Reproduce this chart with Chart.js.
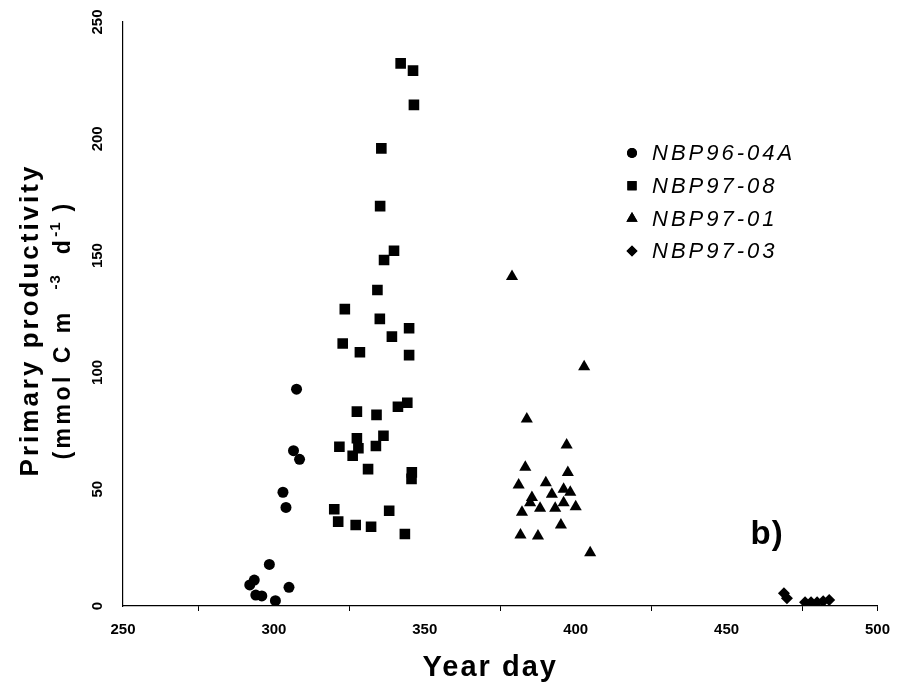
<!DOCTYPE html>
<html>
<head>
<meta charset="utf-8">
<script src="https://cdn.jsdelivr.net/npm/chart.js@4.4.1/dist/chart.umd.min.js"></script>
<style>
  html, body { margin: 0; padding: 0; background: #fff; }
  #wrap { width: 900px; height: 692px; }
</style>
</head>
<body>
<div id="wrap"><canvas id="grafico"></canvas></div>
<script>
// Cruzeiros (legenda)
const cruises = ['NBP96-04A', 'NBP97-08', 'NBP97-01', 'NBP97-03'];

// NBP96-04A (círculos)
const nbp9604aDay = [292, 293.5, 294, 296, 298.5, 300.5, 303, 304, 305, 306.5, 307.5, 308.5];
const nbp9604aPP  = [9.0, 11.1, 4.7, 4.3, 17.8, 2.3, 48.7, 42.2, 8.0, 66.5, 92.8, 62.8];

// NBP97-08 (quadrados)
const nbp9708Day = [342.0, 346.1, 346.4, 335.6, 335.2, 339.8, 336.5, 334.3, 323.5, 335.1,
                    344.8, 339.1, 322.8, 328.5, 344.8, 344.2, 341.1, 327.5, 334.0, 336.3,
                    327.5, 328.0, 321.7, 333.8, 326.1, 331.2, 345.7, 345.6, 320.0, 321.3,
                    327.1, 332.2, 338.2, 343.4];
const nbp9708PP  = [232.3, 229.2, 214.5, 195.9, 171.2, 152.1, 148.1, 135.3, 127.1, 122.9,
                    118.9, 115.3, 112.4, 108.6, 107.4, 87.0, 85.3, 83.2, 81.8, 72.9,
                    71.8, 67.5, 68.2, 68.5, 64.3, 58.6, 57.2, 54.4, 41.4, 36.1,
                    34.7, 33.9, 40.8, 30.8];

// NBP97-01 (triângulos)
const nbp9701Day = [378.9, 402.8, 383.8, 397.0, 383.3, 397.4, 381.1, 390.1, 385.5, 392.1,
                    396.0, 398.2, 384.9, 388.2, 393.2, 396.0, 400.0, 382.2, 395.1, 381.7,
                    387.5, 404.8];
const nbp9701PP  = [141.0, 102.4, 80.0, 68.9, 59.4, 57.1, 51.8, 52.8, 46.5, 47.8,
                    50.0, 48.7, 44.2, 41.8, 41.8, 44.2, 42.5, 40.1, 34.7, 30.4,
                    30.0, 22.8];

// NBP97-03 (losangos)
const nbp9703Day = [469, 470, 476, 478, 480, 482, 484];
const nbp9703PP  = [5.5, 3.3, 1.6, 1.6, 1.6, 2.0, 2.6];

// Eixos
const xTicks = [250, 300, 350, 400, 450, 500];
const yTicks = [0, 50, 100, 150, 200, 250];

function pontos(dias, valores) {
    return dias.map((d, i) => ({ x: d, y: valores[i] }));
}

const estilos = ['circle', 'rect', 'triangle', 'rectRot'];
const raios = [5.5, 7.5, 7, 6];
const raiosLegenda = [5, 6.5, 6.5, 5.5];
const series = [
    pontos(nbp9604aDay, nbp9604aPP),
    pontos(nbp9708Day, nbp9708PP),
    pontos(nbp9701Day, nbp9701PP),
    pontos(nbp9703Day, nbp9703PP)
];

const fonte = '"Liberation Sans", Arial, Helvetica, sans-serif';

// Títulos dos eixos (y com sobrescritos)
const titulos = {
    id: 'titulos',
    afterDraw(chart) {
        const ctx = chart.ctx;
        const area = chart.chartArea;
        const cy = (area.top + area.bottom) / 2 + 6;
        ctx.save();
        ctx.fillStyle = '#000';

        // eixo x
        ctx.textAlign = 'center';
        ctx.textBaseline = 'middle';
        ctx.font = 'bold 29px ' + fonte;
        ctx.letterSpacing = '2px';
        ctx.fillText('Year day', (area.left + area.right) / 2 - 10, area.bottom + 62);

        // eixo y
        ctx.translate(0, cy);
        ctx.rotate(-Math.PI / 2);
        ctx.font = 'bold 26px ' + fonte;
        ctx.letterSpacing = '3px';
        ctx.fillText('Primary productivity', 0, 31);

        // segunda linha: (mmol C m-3 d-1)
        const partes = [
            ['(mmol C m  ', false], ['-3', true], ['  d', false], ['-1', true], [' )', false]
        ];
        ctx.textAlign = 'left';
        let total = 0;
        const larg = partes.map(([t, sup]) => {
            ctx.font = sup ? 'bold 15px ' + fonte : 'bold 23px ' + fonte;
            ctx.letterSpacing = sup ? '1px' : '3.5px';
            const w = ctx.measureText(t).width;
            total += w;
            return w;
        });
        let x = -total / 2 - 10;
        partes.forEach(([t, sup], i) => {
            ctx.font = sup ? 'bold 15px ' + fonte : 'bold 23px ' + fonte;
            ctx.letterSpacing = sup ? '1px' : '3.5px';
            ctx.fillText(t, x, sup ? 56 : 64);
            x += larg[i];
        });
        ctx.restore();
    }
};

// Legenda e rótulo "b)"
const legendaB = {
    id: 'legendaB',
    afterDraw(chart) {
        const ctx = chart.ctx;
        const area = chart.chartArea;
        ctx.save();
        ctx.fillStyle = '#000';
        ctx.textBaseline = 'middle';
        ctx.textAlign = 'left';
        ctx.font = 'italic 22px ' + fonte;
        ctx.letterSpacing = '3px';
        const y0 = area.top + 131;
        chart.data.datasets.forEach((ds, i) => {
            const y = y0 + i * 32.7;
            Chart.helpers.drawPoint(ctx, {
                pointStyle: estilos[i], radius: raiosLegenda[i], borderWidth: 0, rotation: 0
            }, area.left + 509, y);
            ctx.fill();
            ctx.fillText(ds.label, area.left + 529, y + 1);
        });
        ctx.letterSpacing = '1px';
        ctx.font = 'bold 33px ' + fonte;
        ctx.textBaseline = 'alphabetic';
        ctx.fillText('b)', area.right - 127, area.bottom - 62);
        ctx.restore();
    }
};

const ctx = document.getElementById('grafico').getContext('2d');
const chart = new Chart(ctx, {
    type: 'scatter',
    data: {
        datasets: cruises.map((nome, i) => ({
            label: nome,
            data: series[i],
            pointStyle: estilos[i],
            pointRadius: raios[i],
            pointHoverRadius: raios[i],
            backgroundColor: '#000',
            borderColor: '#000',
            borderWidth: 0
        }))
    },
    options: {
        responsive: true,
        maintainAspectRatio: false,
        animation: false,
        layout: { padding: { left: 0, top: 22, right: 19, bottom: 0 } },
        plugins: {
            legend: { display: false },
            tooltip: { enabled: false }
        },
        scales: {
            x: {
                type: 'linear',
                min: 250,
                max: 500,
                afterBuildTicks: s => {
                    const t = [];
                    for (let v = 250; v <= 500; v += 25) t.push({ value: v });
                    s.ticks = t;
                },
                afterFit: s => { s.height = 86; },
                grid: {
                    drawOnChartArea: false,
                    drawTicks: true,
                    tickLength: 5,
                    tickWidth: 1,
                    tickColor: c => (c.tick && (c.tick.value % 50 !== 0 || c.tick.value === 500)) ? '#000' : 'rgba(0,0,0,0)'
                },
                border: { display: true, color: '#000', width: 1.2 },
                ticks: {
                    autoSkip: false,
                    maxRotation: 0,
                    padding: 10,
                    color: '#000',
                    font: { family: fonte, size: 15, weight: 'bold' },
                    callback: v => xTicks.includes(v) ? String(v) : ''
                }
            },
            y: {
                min: 0,
                max: 250,
                afterBuildTicks: s => { s.ticks = yTicks.map(v => ({ value: v })); },
                afterFit: s => { s.width = 123; },
                grid: { drawOnChartArea: false, drawTicks: false },
                border: { display: true, color: '#000', width: 1.2 },
                ticks: {
                    minRotation: 90,
                    maxRotation: 90,
                    crossAlign: 'center',
                    padding: 13,
                    color: '#000',
                    font: { family: fonte, size: 15, weight: 'bold' }
                }
            }
        }
    },
    plugins: [titulos, legendaB]
});
</script>
</body>
</html>
